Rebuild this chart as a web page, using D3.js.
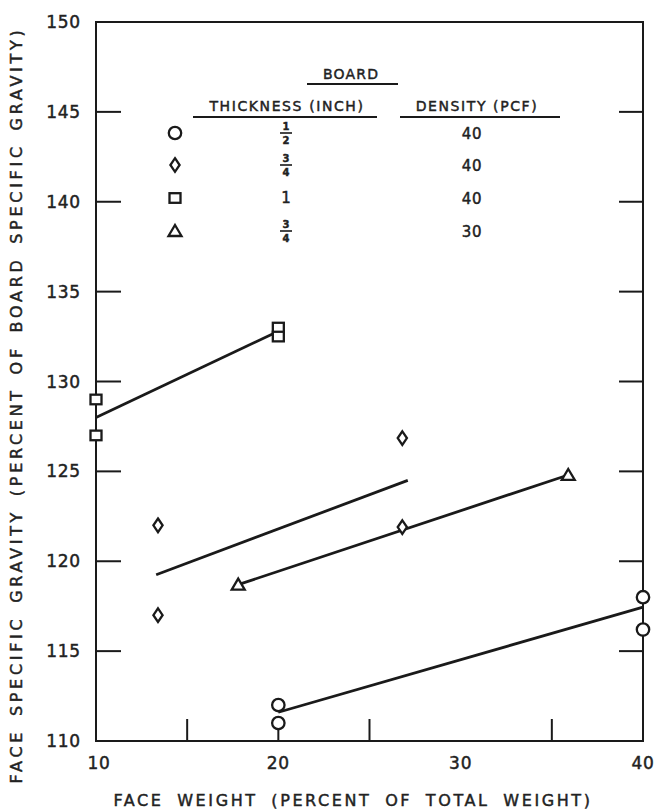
<!DOCTYPE html>
<html><head><meta charset="utf-8">
<script src="https://cdn.jsdelivr.net/npm/d3@7"></script>
<style>
html,body{margin:0;padding:0;background:#fff;}
text{font-family:"DejaVu Sans",sans-serif;fill:#222;stroke:#222;stroke-width:0.45px;}
</style></head>
<body>
<svg id="c" width="660" height="812"></svg>
<script>
// ---- data ----
const xTicks = [10, 20, 30, 40];
const xMinorTicks = [15, 25, 35];
const yTicks = [110, 115, 120, 125, 130, 135, 140, 145, 150];

// points
const circlePts  = [[20, 112], [20, 111], [40, 118], [40, 116.2]];
const diamondPts = [[13.4, 122], [13.4, 117], [26.8, 126.85], [26.8, 121.9]];
const squarePts  = [[10, 129], [10, 127], [20, 133], [20, 132.5]];
const trianglePts = [[17.8, 118.7], [35.9, 124.8]];

// fitted lines
const circleLine   = [[20, 111.6], [40, 117.45]];
const diamondLine  = [[13.3, 119.25], [27.1, 124.5]];
const squareLine   = [[10, 128.0], [20, 132.8]];
const triangleLine = [[17.8, 118.7], [35.9, 124.8]];

const legendRows = [
  {sym: "circle",   num: "1", den: "2", density: "40"},
  {sym: "diamond",  num: "3", den: "4", density: "40"},
  {sym: "square",   num: "1", den: null, density: "40"},
  {sym: "triangle", num: "3", den: "4", density: "30"}
];

// ---- layout ----
const svg = d3.select("#c");
const L = 96, R = 643, T = 22, B = 741;
const x = d3.scaleLinear().domain([10, 40]).range([L, R]);
const y = d3.scaleLinear().domain([110, 150]).range([B, T]);
const ink = "#1a1a1a";

// frame
svg.append("rect").attr("x", L).attr("y", T).attr("width", R - L).attr("height", B - T)
  .attr("fill", "none").attr("stroke", ink).attr("stroke-width", 2);

// y ticks (inward, both sides)
const yInner = yTicks.filter(d => d > 110 && d < 150);
svg.selectAll(".ytl").data(yInner).join("line")
  .attr("x1", L).attr("x2", L + 25).attr("y1", d => y(d)).attr("y2", d => y(d))
  .attr("stroke", ink).attr("stroke-width", 2);
svg.selectAll(".ytr").data(yInner).join("line")
  .attr("x1", R).attr("x2", R - 24).attr("y1", d => y(d)).attr("y2", d => y(d))
  .attr("stroke", ink).attr("stroke-width", 2);
svg.selectAll(".ylab").data(yTicks).join("text")
  .attr("x", 81).attr("y", d => y(d) + 6).attr("text-anchor", "end")
  .attr("font-size", 17).attr("letter-spacing", 0.8).text(d => d);

// x ticks (inward, bottom)
svg.selectAll(".xt").data(xMinorTicks.concat([20])).join("line")
  .attr("x1", d => x(d)).attr("x2", d => x(d)).attr("y1", B).attr("y2", B - 22)
  .attr("stroke", ink).attr("stroke-width", 2);
svg.selectAll(".xlab").data(xTicks).join("text")
  .attr("x", d => x(d) + (d === 10 ? 3 : 0)).attr("y", 769).attr("text-anchor", "middle")
  .attr("font-size", 17).attr("letter-spacing", 0.8).text(d => d);

// axis titles
svg.append("text").attr("x", 353).attr("y", 806).attr("text-anchor", "middle")
  .attr("font-size", 16).attr("letter-spacing", 2.6).attr("word-spacing", 6)
  .text("FACE WEIGHT  (PERCENT OF TOTAL WEIGHT)");
svg.append("text").attr("transform", "translate(22,405) rotate(-90)").attr("text-anchor", "middle")
  .attr("font-size", 16).attr("letter-spacing", 3.7).attr("word-spacing", 4)
  .text("FACE SPECIFIC GRAVITY  (PERCENT OF BOARD SPECIFIC GRAVITY)");

// fitted lines
const line = d3.line().x(d => x(d[0])).y(d => y(d[1]));
[circleLine, diamondLine, squareLine, triangleLine].forEach(l =>
  svg.append("path").attr("d", line(l)).attr("fill", "none").attr("stroke", ink).attr("stroke-width", 2.8));

// symbols
function drawSym(g, type, cx, cy) {
  const s = g.append("g").attr("transform", `translate(${cx},${cy})`);
  const st = {fill: "#fff", stroke: ink, "stroke-width": 2.3};
  let el;
  if (type === "circle") el = s.append("circle").attr("r", 6.2);
  else if (type === "square") el = s.append("rect").attr("x", -5.5).attr("y", -4.8).attr("width", 11).attr("height", 9.6);
  else if (type === "diamond") el = s.append("path").attr("d", "M0,-6.8L4.6,0L0,6.8L-4.6,0Z");
  else el = s.append("path").attr("d", "M0,-6L6.5,5L-6.5,5Z");
  Object.entries(st).forEach(([k, v]) => el.attr(k, v));
}
circlePts.forEach(p => drawSym(svg, "circle", x(p[0]), y(p[1])));
diamondPts.forEach(p => drawSym(svg, "diamond", x(p[0]), y(p[1])));
squarePts.forEach(p => drawSym(svg, "square", x(p[0]), y(p[1])));
trianglePts.forEach(p => drawSym(svg, "triangle", x(p[0]), y(p[1])));

// legend
const lg = svg.append("g");
lg.append("text").attr("x", 351).attr("y", 79).attr("text-anchor", "middle")
  .attr("font-size", 14).attr("letter-spacing", 1.2).text("BOARD");
lg.append("line").attr("x1", 307).attr("x2", 398).attr("y1", 84).attr("y2", 84).attr("stroke", ink).attr("stroke-width", 2);
lg.append("text").attr("x", 287).attr("y", 111).attr("text-anchor", "middle")
  .attr("font-size", 14).attr("letter-spacing", 1.6).text("THICKNESS (INCH)");
lg.append("line").attr("x1", 193).attr("x2", 377).attr("y1", 117).attr("y2", 117).attr("stroke", ink).attr("stroke-width", 2);
lg.append("text").attr("x", 477).attr("y", 111).attr("text-anchor", "middle")
  .attr("font-size", 14).attr("letter-spacing", 1.6).text("DENSITY (PCF)");
lg.append("line").attr("x1", 400).attr("x2", 560).attr("y1", 117).attr("y2", 117).attr("stroke", ink).attr("stroke-width", 2);

const rowY = [133, 165, 198, 231];
legendRows.forEach((r, i) => {
  const cy = rowY[i];
  drawSym(lg, r.sym, 175, cy);
  if (r.den) {
    lg.append("text").attr("x", 286).attr("y", cy - 3).attr("text-anchor", "middle")
      .attr("font-size", 10).attr("font-weight", "bold").text(r.num);
    lg.append("line").attr("x1", 280).attr("x2", 292).attr("y1", cy).attr("y2", cy).attr("stroke", ink).attr("stroke-width", 1.6);
    lg.append("text").attr("x", 286).attr("y", cy + 11).attr("text-anchor", "middle")
      .attr("font-size", 10).attr("font-weight", "bold").text(r.den);
  } else {
    lg.append("text").attr("x", 286).attr("y", cy + 5).attr("text-anchor", "middle")
      .attr("font-size", 15).text(r.num);
  }
  lg.append("text").attr("x", 472).attr("y", cy + 5.5).attr("text-anchor", "middle")
    .attr("font-size", 15).attr("letter-spacing", 0.8).text(r.density);
});
</script>
</body></html>
